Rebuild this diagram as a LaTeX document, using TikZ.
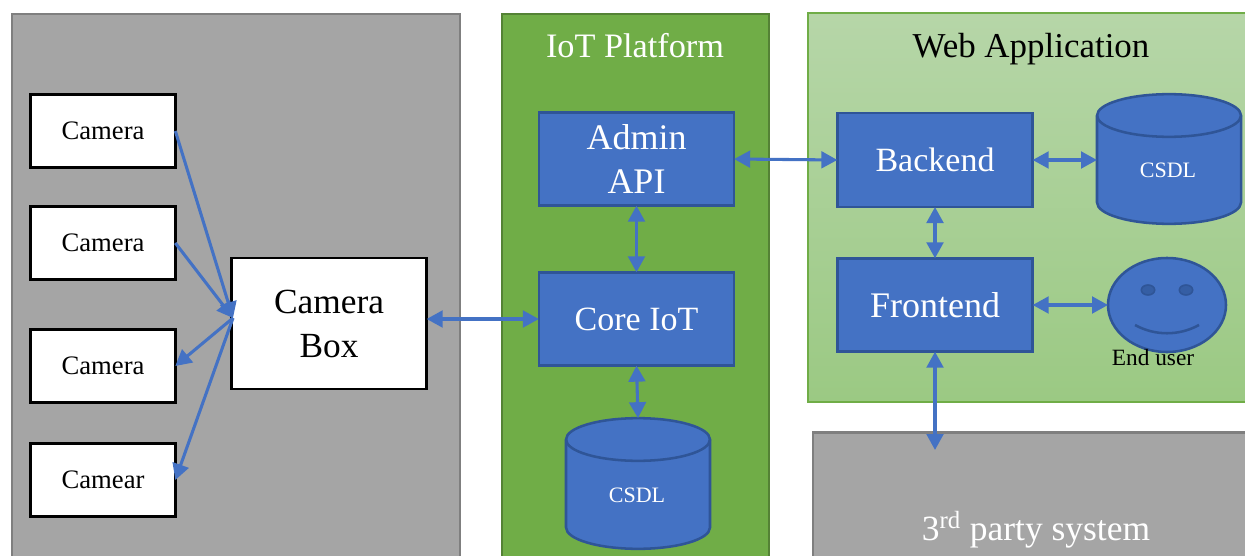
\documentclass[tikz,border=0pt]{standalone}
\usepackage{fontspec}
\setmainfont{Liberation Serif}
\usetikzlibrary{arrows.meta,shapes.geometric}
\definecolor{flow}{HTML}{4472C4}
\definecolor{flowdark}{HTML}{2F5597}
\definecolor{greyfill}{HTML}{A5A5A5}
\definecolor{greyline}{HTML}{7F7F7F}
\definecolor{greenfill}{HTML}{70AD47}
\definecolor{greenline}{HTML}{548235}
\definecolor{webtop}{HTML}{B6D6A8}
\definecolor{webbot}{HTML}{9BC983}
\newcommand{\fsz}[1]{\fontsize{#1}{33}\selectfont}
\tikzset{
  panelgrey/.style={draw=greyline,fill=greyfill,line width=1.9pt},
  panelgreen/.style={draw=greenline,fill=greenfill,line width=1.7pt},
  panelweb/.style={draw=greenfill,top color=webtop,bottom color=webbot,line width=0.9pt},
  whitebox/.style={draw=black,fill=white,line width=1.9pt,outer sep=0pt,inner sep=0pt,align=center},
  cambox/.style={whitebox,minimum width=108.5pt,minimum height=54.5pt,font=\fsz{20}},
  hubbox/.style={whitebox,minimum width=146.5pt,minimum height=98pt,font=\fsz{26.5}},
  bluebox/.style={draw=flowdark,fill=flow,text=white,line width=1.9pt,outer sep=0pt,inner sep=0pt,align=center,minimum width=146.5pt,minimum height=70pt,font=\fsz{25.5}},
  dbshape/.style={draw=flowdark,fill=flow,line width=1.9pt},
  dbrim/.style={draw=flowdark,line width=1.9pt},
  dbanchor/.style={rectangle,outer sep=0pt,inner sep=0pt,minimum width=108pt,minimum height=98pt},
  dblabel/.style={text=white,font=\fsz{16.5},inner sep=0pt},
  title/.style={inner sep=0pt,font=\fsz{25.7}},
  link/.style={draw=flow,line width=2.3pt},
  both/.style={link,{Triangle[length=12pt,width=12.5pt]}-{Triangle[length=12pt,width=12.5pt]}},
  one/.style={link,-{Triangle[length=12pt,width=12.5pt]}},
}
\newcommand{\dbcyl}[3]{% centre x, top y, bottom y
  \path[dbshape] (#1-72,#2+21.5) -- (#1-72,#3-21.5)
    arc[start angle=180,end angle=360,x radius=54pt,y radius=16pt]
    -- (#1+72,#2+21.5)
    arc[start angle=0,end angle=180,x radius=54pt,y radius=16pt] -- cycle;
  \path[dbrim] (#1-72,#2+21.5)
    arc[start angle=180,end angle=360,x radius=54pt,y radius=16pt];
}
\begin{document}
\begin{tikzpicture}[x=0.75pt,y=-0.75pt]
\useasboundingbox (0,0) rectangle (1245,556);
\clip (0,0) rectangle (1245,556);
% panels
\path[panelgrey] (12,14) rectangle (460,575);
\path[panelgreen] (502,14) rectangle (769,575);
\path[panelweb] (808,13) rectangle (1260,402);
\path[panelgrey] (813,432.5) rectangle (1260,575);
% titles
\node[title,text=white] (tiot) at (635,46) {IoT Platform};
\node[title,text=black,font=\fsz{26.2}] (tweb) at (1031,49) {Web Application};
\node[title,text=white,font=\fsz{26.6}] (tthird) at (1036,530) {3\textsuperscript{rd} party system};
% cameras
\node[cambox] (cam1) at (103,131) {Camera};
\node[cambox] (cam2) at (103,243) {Camera};
\node[cambox] (cam3) at (103,366) {Camera};
\node[cambox] (cam4) at (103,480) {Camear};
\node[hubbox] (hub) at (329,323.5) {Camera\\Box};
% platform
\node[bluebox,font=\fsz{27}] (admin) at (636.5,159) {Admin\\API};
\node[bluebox] (core) at (636.5,319) {Core IoT};
\dbcyl{638}{418}{549}
\node[dbanchor] (dbiot) at (638,483.5) {};
\node[dblabel] (dbiott) at (637,495) {CSDL};
% web application
\node[bluebox,minimum height=70.5pt] (backend) at (935,160) {Backend};
\node[bluebox,font=\fsz{27}] (frontend) at (935,305) {Frontend};
\dbcyl{1169}{94}{224}
\node[dbanchor] (dbweb) at (1169,159) {};
\node[dblabel] (dbwebt) at (1168,170) {CSDL};
% smiley
\node[ellipse,draw=flowdark,fill=flow,line width=1.9pt,outer sep=0pt,inner sep=0pt,minimum width=88.5pt,minimum height=70.5pt] (face) at (1167,305) {};
\node[ellipse,draw=flowdark,fill=flowdark!70!flow,line width=1.2pt,inner sep=0pt,minimum width=10pt,minimum height=7.5pt] (eyel) at (1148,290) {};
\node[ellipse,draw=flowdark,fill=flowdark!70!flow,line width=1.2pt,inner sep=0pt,minimum width=10pt,minimum height=7.5pt] (eyer) at (1186,290) {};
\path[dbrim] (1135,325) .. controls (1155,336) and (1179,336) .. (1199,325);
\node[inner sep=0pt,font=\fsz{17.5}] (enduser) at (1153,358) {End user};
% connectors
\coordinate (hubin) at (233,318);
\coordinate (thirdend) at (935,450);
\draw[one] (cam1.east) -- (hubin);
\draw[one] (cam2.east) -- (hubin);
\draw[one] (hubin) -- (cam3.east);
\draw[one] (hubin) -- (cam4.east);
\draw[both] (core.west -| hub.east) -- (core.west);
\draw[both] (admin.south) -- (core.north);
\draw[both] (core.south) -- (dbiot.north);
\draw[both] (admin.east) -- (backend.west);
\draw[both] (backend.east) -- (backend.east -| dbweb.west);
\draw[both] (backend.south) -- (frontend.north);
\draw[both] (frontend.east) -- (face.west);
\draw[both] (frontend.south) -- (thirdend);
\end{tikzpicture}
\end{document}
